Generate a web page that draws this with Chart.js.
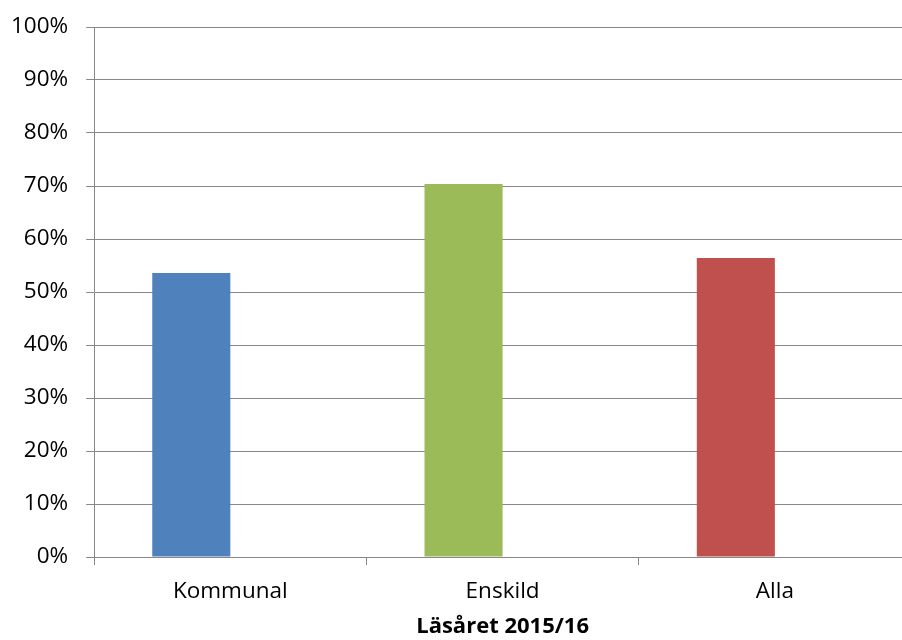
<!DOCTYPE html>
<html lang="sv">
<head>
<meta charset="UTF-8">
<title>Läsåret 2015/16</title>
<script src="https://cdn.jsdelivr.net/npm/chart.js@4"></script>
<style>
  html, body { margin: 0; padding: 0; overflow: hidden; background: #fff; scrollbar-width: none; }
  ::-webkit-scrollbar { width: 0; height: 0; display: none; }
  #ram { position: fixed; left: 0; top: 0; width: 902px; height: 640px; overflow: hidden; }
  /* plotytan går en bit utanför högerkanten i originalet */
  #grafico { position: absolute; left: -7px; top: 0; }
</style>
</head>
<body>
<div id="ram">
  <canvas id="grafico" width="920" height="640"></canvas>
</div>

<script>
  // data
  const kategorier = ['Kommunal', 'Enskild', 'Alla'];
  const andel = [53.6, 70.4, 56.4];        // procent
  const tomSerie = [null, null, null];      // andra serien i Excel är tom, men tar plats
  const farger = ['#4F81BD', '#9BBB59', '#C0504D'];
  const yMax = 100;
  const ySteg = 10;
  const xTitel = 'Läsåret 2015/16';

  const gra = '#878787';
  const typsnitt = "'Open Sans', sans-serif";

  const ctx = document.getElementById('grafico').getContext('2d');

  new Chart(ctx, {
    type: 'bar',
    data: {
      labels: kategorier,
      datasets: [
        {
          label: 'Andel',
          data: andel,
          backgroundColor: farger,
          borderWidth: 0,
          categoryPercentage: 0.5735,
          barPercentage: 1
        },
        {
          label: 'Tom',
          data: tomSerie,
          backgroundColor: '#8064A2',
          categoryPercentage: 0.5735,
          barPercentage: 1
        }
      ]
    },
    options: {
      responsive: false,
      animation: false,
      layout: {
        padding: { left: 0, right: 2, top: 0, bottom: 0 }
      },
      plugins: {
        legend: { display: false },
        tooltip: { enabled: false }
      },
      scales: {
        x: {
          grid: {
            display: true,
            drawOnChartArea: false,
            drawTicks: true,
            tickLength: 8,
            color: gra,
            lineWidth: 1
          },
          border: { display: true, color: gra, width: 1 },
          ticks: {
            color: '#000',
            padding: 13,
            font: { family: typsnitt, size: 22.5 }
          },
          title: {
            display: true,
            text: xTitel,
            color: '#000',
            padding: { top: 0, bottom: 4 },
            font: { family: typsnitt, size: 22, weight: 'bold', lineHeight: '18px' }
          }
        },
        y: {
          min: 0,
          max: yMax,
          grid: {
            color: gra,
            lineWidth: 1,
            drawTicks: true,
            tickLength: 8
          },
          border: { display: true, color: gra, width: 1 },
          ticks: {
            stepSize: ySteg,
            color: '#000',
            padding: 18,
            font: { family: typsnitt, size: 22.5, lineHeight: '18px' },
            callback: (v) => v + '%'
          }
        }
      }
    }
  });
</script>
</body>
</html>
